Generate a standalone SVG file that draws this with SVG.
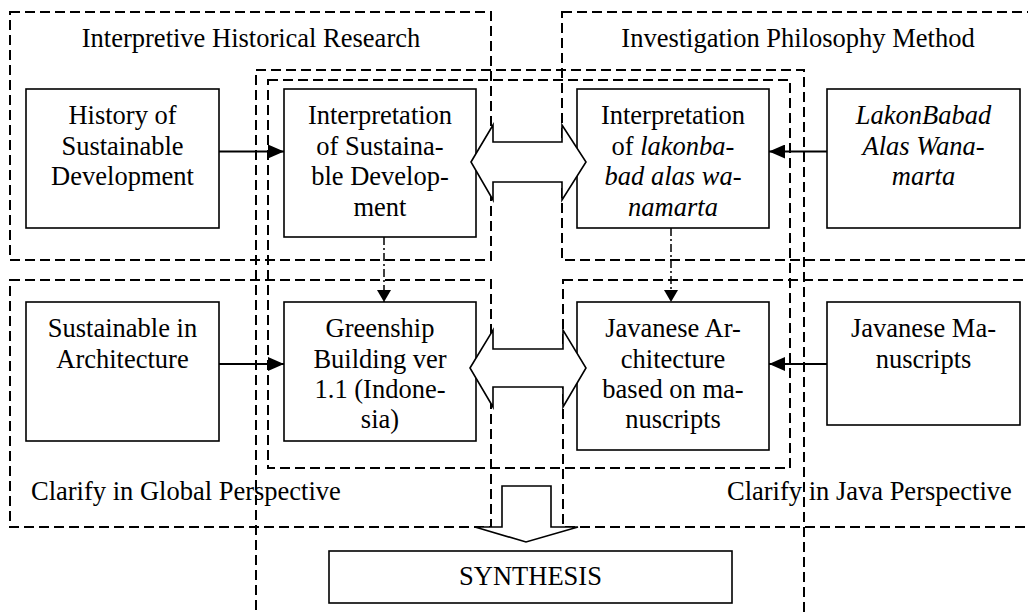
<svg xmlns="http://www.w3.org/2000/svg" width="1028" height="613" viewBox="0 0 1028 613">
<style>
.frame{fill:none;stroke:#000;stroke-width:2;stroke-dasharray:10 5}
.box{fill:#fff;stroke:#000;stroke-width:1.6}
.t{font-family:"Liberation Serif","Times New Roman",serif;font-size:26.5px;fill:#000}
.c{text-anchor:middle}
.i{font-style:italic}
.ln{fill:none;stroke:#000;stroke-width:1.8}
.dd{fill:none;stroke:#000;stroke-width:1.5;stroke-dasharray:8 3 2 3}
.blk{fill:#fff;stroke:#000;stroke-width:1.6;stroke-linejoin:miter}
</style>
<defs>
<marker id="ah" viewBox="0 0 16 14" refX="16" refY="7" markerWidth="16" markerHeight="14" markerUnits="userSpaceOnUse" orient="auto">
<path d="M0,0 L16,7 L0,14 Z" fill="#000"/>
</marker>
<marker id="ah2" viewBox="0 0 12 14" refX="12" refY="7" markerWidth="12" markerHeight="14" markerUnits="userSpaceOnUse" orient="auto">
<path d="M0,0 L12,7 L0,14 Z" fill="#000"/>
</marker>
</defs>
<rect width="1028" height="613" fill="#fff"/>

<g id="frame-historical">
<rect class="frame" x="10" y="12" width="481" height="248"/>
<text class="t c" x="251" y="47">Interpretive Historical Research</text>
</g>
<g id="frame-philosophy">
<rect class="frame" x="562" y="12" width="490" height="248"/>
<text class="t c" x="798" y="47">Investigation Philosophy Method</text>
</g>
<g id="frame-global">
<rect class="frame" x="10" y="280" width="481" height="247"/>
<text class="t" x="31" y="500">Clarify in Global Perspective</text>
</g>
<g id="frame-java">
<rect class="frame" x="563" y="280" width="490" height="247"/>
<text class="t" x="727" y="500">Clarify in Java Perspective</text>
</g>
<g id="frame-center-outer">
<path class="frame" d="M256,625 L256,70 L804,70 L804,625"/>
</g>
<g id="frame-center-inner">
<rect class="frame" x="268" y="80" width="522" height="388"/>
</g>

<g id="n-history">
<rect class="box" x="26" y="89" width="193" height="139"/>
<text class="t c" x="122.5" y="124">History of</text>
<text class="t c" x="122.5" y="154.5">Sustainable</text>
<text class="t c" x="122.5" y="185">Development</text>
</g>
<g id="n-interp-sd">
<rect class="box" x="284" y="89" width="192" height="148"/>
<text class="t c" x="380" y="124">Interpretation</text>
<text class="t c" x="380" y="154.5">of Sustaina-</text>
<text class="t c" x="380" y="185">ble Develop-</text>
<text class="t c" x="380" y="215.5">ment</text>
</g>
<g id="n-interp-lakon">
<rect class="box" x="577" y="89" width="192" height="139"/>
<text class="t c" x="673" y="124">Interpretation</text>
<text class="t c" x="673" y="154.5">of <tspan class="i">lakonba-</tspan></text>
<text class="t c i" x="673" y="185">bad alas wa-</text>
<text class="t c i" x="673" y="215.5">namarta</text>
</g>
<g id="n-lakon">
<rect class="box" x="827" y="89" width="193" height="139"/>
<text class="t c i" x="923.5" y="124">LakonBabad</text>
<text class="t c i" x="923.5" y="154.5">Alas Wana-</text>
<text class="t c i" x="923.5" y="185">marta</text>
</g>
<g id="n-sust-arch">
<rect class="box" x="26" y="302" width="193" height="139"/>
<text class="t c" x="122.5" y="337">Sustainable in</text>
<text class="t c" x="122.5" y="367.5">Architecture</text>
</g>
<g id="n-greenship">
<rect class="box" x="284" y="302" width="192" height="139"/>
<text class="t c" x="380" y="337">Greenship</text>
<text class="t c" x="380" y="367.5">Building ver</text>
<text class="t c" x="380" y="398">1.1 (Indone-</text>
<text class="t c" x="380" y="428">sia)</text>
</g>
<g id="n-jav-arch">
<rect class="box" x="577" y="302" width="192" height="148"/>
<text class="t c" x="673" y="337">Javanese Ar-</text>
<text class="t c" x="673" y="367.5">chitecture</text>
<text class="t c" x="673" y="398">based on ma-</text>
<text class="t c" x="673" y="428">nuscripts</text>
</g>
<g id="n-jav-manu">
<rect class="box" x="827" y="302" width="193" height="123"/>
<text class="t c" x="923.5" y="337">Javanese Ma-</text>
<text class="t c" x="923.5" y="367.5">nuscripts</text>
</g>
<g id="n-synthesis">
<rect class="box" x="329" y="551" width="403" height="52"/>
<text class="t c" x="530.5" y="585">SYNTHESIS</text>
</g>

<g id="connectors">
<line class="ln" x1="219" y1="151.5" x2="284" y2="151.5" marker-end="url(#ah)"/>
<line class="ln" x1="827" y1="151.5" x2="769" y2="151.5" marker-end="url(#ah)"/>
<line class="ln" x1="219" y1="364" x2="284" y2="364" marker-end="url(#ah)"/>
<line class="ln" x1="827" y1="364" x2="769" y2="364" marker-end="url(#ah)"/>
<line class="dd" x1="384" y1="237" x2="384" y2="302" marker-end="url(#ah2)"/>
<line class="dd" x1="671" y1="228" x2="671" y2="302" marker-end="url(#ah2)"/>
<polygon class="blk" points="471,162 493,125 493,142 562,142 562,125 586,162 562,200 562,182 493,182 493,200"/>
<polygon class="blk" points="470,368 493,330 493,349 563,349 563,330 586,368 563,407 563,387 493,387 493,407"/>
<polygon class="blk" points="502,486 551,486 551,527 578,527 526,542 475,527 502,527"/>
</g>
</svg>
